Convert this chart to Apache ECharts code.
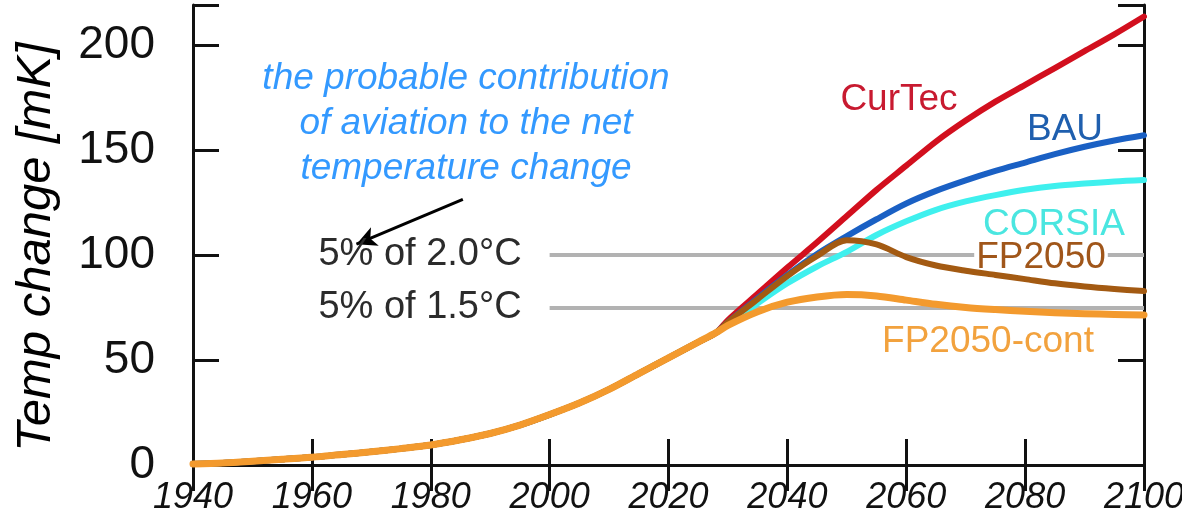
<!DOCTYPE html>
<html>
<head>
<meta charset="utf-8">
<script src="https://cdn.jsdelivr.net/npm/echarts@6.0.0/dist/echarts.min.js"></script>
<style>
  html, body { margin: 0; padding: 0; background: #ffffff; }
  #chart { width: 1182px; height: 519px; }
</style>
</head>
<body>
<div id="chart"></div>
<script>
// Temperature change caused by aviation [mK]: a shared historical path, then five scenarios.
const historyYears  = [1940, 1945, 1950, 1955, 1960, 1965, 1970, 1975, 1980, 1985, 1990, 1995, 2000, 2005, 2010, 2015, 2020, 2025, 2028];
const historyValues = [0.5, 1, 1.8, 2.7, 3.7, 5, 6.3, 7.8, 9.5, 12, 15, 19, 24, 29.5, 36, 43.5, 51, 58.5, 63];

const scenarioYears = [2030, 2035, 2040, 2045, 2050, 2055, 2060, 2065, 2070, 2075, 2080, 2085, 2090, 2095, 2100];
const curTec     = [69, 81.5, 94, 106, 118.5, 131, 142.5, 154, 164, 173, 181, 189, 197, 205, 213.5];
const bau        = [68, 79.5, 90.5, 100.5, 109, 117, 124.5, 130.5, 135.5, 140, 144, 148, 151.5, 154.5, 157];
const corsia     = [67, 77, 86.5, 94.5, 101.5, 109.5, 116, 121.5, 125.5, 128.5, 131, 132.8, 134, 135, 135.7];
const fp2050     = [68, 79, 90, 99.5, 107, 105, 99, 95, 92.5, 90.5, 88.5, 86.5, 85, 83.8, 82.8];
const fp2050Cont = [66.5, 73, 77.5, 80, 81.2, 80.5, 78.5, 76.5, 75, 74, 73.2, 72.5, 72, 71.7, 71.4];

const scenarioNames  = ['CurTec', 'BAU', 'CORSIA', 'FP2050', 'FP2050-cont'];
const scenarioValues = [curTec, bau, corsia, fp2050, fp2050Cont];

// Reference levels: 5 % of the 2.0 °C and 1.5 °C targets
const thresholdValues = [100, 75];
const thresholdLabels = ['5% of 2.0°C', '5% of 1.5°C'];
const thresholdYears  = [2000, 2100];

// Arrow from the note to the upper reference label: [year, mK] at tail and head
const arrowTail = [1985.4, 126.5];
const arrowHead = [1967.5, 105.1];

const noteLines = ['the probable contribution', 'of aviation to the net', 'temperature change'];
const yAxisTitle = 'Temp change [mK]';

const xTickValues = [1940, 1960, 1980, 2000, 2020, 2040, 2060, 2080, 2100];
const yTickValues = [0, 50, 100, 150, 200];

// ---- styling ----
const lineColors  = ['#d20f1e', '#1a60c4', '#3ff0ee', '#a35a12', '#f39a2e'];
const lineWidths  = [6, 6, 6, 6, 7];
const labelColors = ['#c81a30', '#1f5fae', '#4ae6e0', '#a0561a', '#f2a23e'];
const labelCenters = [[899, 100], [1065, 130], [1054, 225], [1041, 258], [988, 342]];
const FONT = '"Liberation Sans", Arial, Helvetica, sans-serif';

function pairs(xs, ys) { return xs.map((x, i) => [x, ys[i]]); }
function frameLine() { return { show: true, lineStyle: { color: '#111111', width: 3 } }; }
function innerTicks() {
  return { show: true, inside: true, length: 26, lineStyle: { color: '#111111', width: 3 } };
}

const history = pairs(historyYears, historyValues);

const scenarioSeries = scenarioNames.map((name, i) => ({
  name: name,
  type: 'line',
  xAxisIndex: 0,
  yAxisIndex: 0,
  z: 20,
  smooth: 0.3,
  symbol: 'none',
  silent: true,
  lineStyle: { color: lineColors[i], width: lineWidths[i], cap: 'round', join: 'round' },
  data: history.concat(pairs(scenarioYears, scenarioValues[i]))
}));

const referenceSeries = {
  name: 'reference',
  type: 'line',
  z: 1,
  data: [],
  silent: true,
  markLine: {
    silent: true,
    symbol: ['none', 'none'],
    animation: false,
    lineStyle: { color: '#b2b2b2', width: 4, type: 'solid', cap: 'butt' },
    label: {
      show: true,
      position: 'start',
      distance: 28,
      color: '#2b2b2b',
      fontSize: 38,
      fontFamily: FONT
    },
    data: thresholdValues.map((v, i) => [
      { coord: [thresholdYears[0], v], label: { formatter: thresholdLabels[i] } },
      { coord: [thresholdYears[1], v] }
    ])
  }
};

const arrowSeries = {
  name: 'note-arrow',
  type: 'line',
  z: 25,
  data: [],
  silent: true,
  markLine: {
    silent: true,
    animation: false,
    symbol: ['none', 'arrow'],
    symbolSize: [15, 20],
    lineStyle: { color: '#000000', width: 3, type: 'solid' },
    label: { show: false },
    data: [[{ coord: arrowTail }, { coord: arrowHead }]]
  }
};

const chart = echarts.init(document.getElementById('chart'), null, { renderer: 'canvas' });

chart.setOption({
  animation: false,
  backgroundColor: '#ffffff',
  grid: { left: 193, right: 38, top: 5, bottom: 54, outerBoundsMode: 'none' },
  xAxis: [
    {
      type: 'value', position: 'bottom', min: 1940, max: 2100, interval: 20,
      axisLine: frameLine(), axisTick: innerTicks(), splitLine: { show: false },
      axisLabel: {
        customValues: xTickValues.slice(),
        formatter: (v) => String(v),
        fontSize: 36, fontStyle: 'italic', color: '#111111', margin: 15, fontFamily: FONT
      }
    },
    {
      type: 'value', position: 'top', min: 1940, max: 2100, interval: 20,
      axisLine: frameLine(), axisTick: innerTicks(), splitLine: { show: false },
      axisLabel: { show: false }
    }
  ],
  yAxis: [
    {
      type: 'value', position: 'left', min: 0, max: 219, interval: 50,
      axisLine: frameLine(), axisTick: innerTicks(), splitLine: { show: false },
      axisLabel: { customValues: yTickValues.slice(), fontSize: 46, color: '#111111', margin: 38, fontFamily: FONT }
    },
    {
      type: 'value', position: 'right', min: 0, max: 219, interval: 50,
      axisLine: frameLine(), axisTick: innerTicks(), splitLine: { show: false },
      axisLabel: { show: false }
    }
  ],
  graphic: [
    {
      // axis title, rotated to read bottom-to-top
      type: 'text',
      z: 30,
      x: 36,
      y: 247,
      rotation: Math.PI / 2,
      silent: true,
      style: {
        text: yAxisTitle,
        fill: '#000000',
        font: 'italic 49px ' + FONT,
        align: 'center',
        verticalAlign: 'middle'
      }
    },
    {
      type: 'text',
      z: 30,
      x: 466,
      y: 56,
      silent: true,
      style: {
        text: noteLines.join('\n'),
        fill: '#3399ff',
        font: 'italic 37px ' + FONT,
        lineHeight: 45,
        align: 'center',
        verticalAlign: 'top'
      }
    }
  ].concat(scenarioNames.map((name, i) => ({
    type: 'text',
    z: 10,
    x: labelCenters[i][0],
    y: labelCenters[i][1],
    silent: true,
    style: {
      text: name,
      fill: labelColors[i],
      font: '37px ' + FONT,
      align: 'center',
      verticalAlign: 'middle',
      backgroundColor: '#ffffff',
      padding: [0, 2]
    }
  }))),
  series: [referenceSeries, arrowSeries].concat(scenarioSeries)
});
</script>
</body>
</html>
